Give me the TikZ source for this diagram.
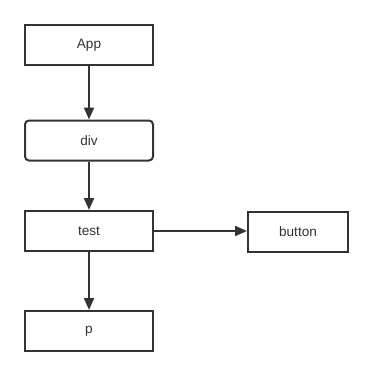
\documentclass[tikz,border=0pt]{standalone}
\usepackage{fontspec}
\setmainfont{Liberation Sans}
\usetikzlibrary{arrows.meta}

\definecolor{ink}{RGB}{51,51,51}
\tikzset{every picture/.style={line width=1.5pt}}
\tikzset{
  blk/.style={draw=ink, text=ink, rectangle, minimum width=96pt, minimum height=30pt, inner sep=0.75pt, font=\fontsize{10.2}{12}\selectfont},
  link/.style={draw=ink, -{Triangle[length=9pt,width=7.5pt]}}
}

\begin{document}
\begin{tikzpicture}[x=0.75pt,y=0.75pt,yscale=-1,xscale=1]
	%canvas
	\path[use as bounding box] (0,0) rectangle (374,378);
	
	%Boxes
	\node [blk] (app) at (89,45) {App};
	\node [blk, rounded corners=3pt] (div) at (89,140.5) {div};
	\node [blk] (test) at (89,231) {test};
	\node [blk, minimum width=75pt] (button) at (298,231.5) {button};
	\node [blk] (p) at (89,331) {p};
	
	%Links
	\draw [link] (app) -- (div);
	\draw [link] (div) -- (test);
	\draw [link] (test) -- (p);
	\draw [link] (test.east) -- (button.west |- test.east);
\end{tikzpicture}
\end{document}
